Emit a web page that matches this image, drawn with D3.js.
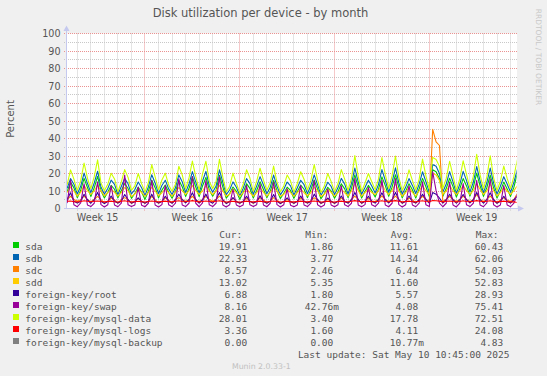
<!DOCTYPE html>
<html><head><meta charset="utf-8">
<script src="https://cdn.jsdelivr.net/npm/d3@7"></script>
<style>html,body{margin:0;padding:0;background:#f0f0f0;} svg{display:block;}</style>
</head><body>
<svg id="chart" width="547" height="376"></svg>
<script>
// ---- data: 6-hourly samples starting Mon 7 Apr 2025 06:00, one line per week (Sun..Sat) ----
const sampleStart = Date.UTC(2025, 3, 7, 6, 0);
const sampleStepHours = 6;

const sda = [
 9.6,15.1,11.8, 6.2,10.4,17.2,12.0, 6.9,11.8,18.4,10.1, 6.0,9.3,13.2,11.0, 6.1,10.2,14.3,11.4, 5.8,8.6,12.1,9.4,
 5.2,9.9,16.2,11.9, 6.1,10.5,13.4,9.1, 5.9,9.6,16.1,12.4, 6.9,11.4,18.2,12.3, 6.8,12.9,17.8,10.6, 7.0,10.4,19.0,12.2, 5.9,8.4,12.3,9.8,
 5.3,9.1,14.2,11.5, 6.0,10.3,15.3,10.9, 6.2,9.8,16.1,10.2, 5.7,8.6,12.2,10.3, 5.8,9.6,13.4,11.0, 6.3,10.7,16.3,11.1, 5.6,8.5,12.1,10.0,
 5.9,9.5,14.1,11.2, 6.2,11.5,19.2,12.3, 6.0,9.7,13.2,10.2, 6.6,11.2,18.1,13.1, 7.0,12.2,19.3,11.9, 6.1,9.8,14.2,10.7, 6.0,11.3,17.2,12.4,
 6.8,22.1,21.0,17.2, 7.0,11.4,17.3,12.5, 6.5,11.2,17.1,12.9, 7.1,12.1,20.2,13.0, 6.9,12.0,19.1,11.8, 6.0,10.1,15.1,11.2,
 6.9,12.2,19.9
];
const sdb = [
 11.6,17.1,13.9, 8.3,12.7,20.2,14.4, 9.1,14.6,21.3,12.3, 8.2,11.4,16.2,13.8, 8.0,12.6,17.2,14.1, 8.3,10.8,15.1,11.9,
 7.5,12.3,19.3,14.6, 8.4,13.1,16.1,11.2, 8.0,11.9,19.2,15.3, 9.2,14.0,21.1,15.1, 8.8,15.7,21.2,13.0, 9.3,12.8,22.1,14.9, 7.9,10.6,15.2,12.1,
 7.2,11.5,17.1,14.2, 8.1,12.8,18.2,13.4, 8.4,12.2,19.1,12.7, 7.8,10.8,15.1,12.9, 7.7,11.9,16.1,13.6, 8.5,13.1,19.2,13.5, 7.6,10.7,15.0,12.6,
 8.0,11.8,17.2,13.9, 8.3,14.2,23.1,15.1, 8.1,12.0,16.2,12.8, 8.9,13.8,22.2,16.0, 9.3,15.1,23.2,14.6, 8.2,12.1,17.1,13.2, 8.6,13.9,21.0,15.3,
 9.2,25.2,24.1,20.0, 9.4,14.0,21.1,15.2, 8.6,13.8,21.2,15.9, 9.5,15.0,24.0,15.8, 9.1,14.8,23.1,14.5, 8.2,12.7,18.2,14.0,
 9.3,15.1,22.3
];
const sdc = [
 5.1,7.0,5.2, 4.1,5.0,7.1,5.0, 3.9,5.1,6.9,5.1, 3.2,4.1,6.0,4.9, 3.1,5.0,6.2,5.0, 3.0,4.1,5.8,4.2,
 3.1,4.2,7.0,5.1, 3.0,4.1,6.1,4.8, 3.2,5.0,6.2,5.1, 4.0,5.1,7.0,5.0, 3.9,5.0,6.9,5.2, 4.1,5.1,7.1,5.0, 3.0,4.0,5.9,4.1,
 3.1,4.0,6.0,4.2, 3.0,4.1,6.1,4.9, 3.2,4.2,6.2,5.0, 2.9,4.0,5.1,4.0, 3.0,4.1,6.0,4.2, 3.1,4.2,6.1,4.9, 2.9,4.0,5.2,4.1,
 3.0,4.1,6.1,4.0, 3.1,5.0,7.1,5.1, 3.0,4.1,6.0,4.2, 4.0,5.1,7.2,5.0, 4.1,5.0,7.1,5.1, 3.1,4.2,6.0,5.0, 3.2,5.1,7.0,5.2,
 4.1,45.2,38.1,36.0, 4.0,5.1,7.0,5.0, 4.1,5.0,7.1,5.2, 3.9,5.1,8.0,5.1, 4.0,5.2,7.1,5.0, 3.1,5.0,6.1,4.9,
 4.0,5.1,8.6
];
const sdd = [
 9.1,12.2,10.0, 7.1,9.2,13.1,10.2, 8.0,10.1,13.2,10.0, 7.2,9.0,11.1,9.2, 7.1,9.1,12.0,10.1, 6.9,8.2,11.0,9.1,
 7.0,9.1,12.1,10.0, 7.2,9.0,11.2,9.1, 7.1,9.2,12.0,10.1, 8.0,10.1,13.1,10.2, 8.1,10.0,13.0,10.1, 7.9,10.2,13.2,10.0, 7.0,8.1,11.1,9.0,
 6.9,9.0,11.2,9.1, 7.1,9.1,12.0,9.2, 7.0,9.2,12.1,10.0, 7.1,8.0,11.0,9.1, 7.0,9.1,11.2,9.0, 7.2,9.0,12.1,10.1, 6.9,8.1,11.0,9.2,
 7.0,9.1,11.1,9.0, 7.1,10.0,14.1,10.2, 7.0,9.1,11.2,9.1, 8.0,10.1,14.0,10.1, 8.1,10.2,14.1,10.0, 7.1,9.0,12.1,9.2, 7.0,10.1,13.0,10.1,
 8.0,20.1,19.2,16.0, 8.1,10.0,13.2,10.1, 7.9,10.1,13.0,10.2, 8.0,10.2,14.1,11.0, 8.1,10.0,14.0,10.1, 7.1,9.1,12.0,10.0,
 8.0,10.2,13.0
];
const fkRoot = [
 5.1,9.0,4.2, 3.1,4.2,8.1,5.0, 3.0,5.1,9.2,4.1, 2.9,4.0,7.1,4.2, 3.1,4.1,8.0,5.1, 3.0,3.9,6.1,4.0,
 3.0,4.1,8.2,4.1, 3.1,4.0,7.0,4.2, 3.0,5.0,8.1,5.1, 3.2,5.1,9.0,5.0, 3.1,5.0,8.2,4.1, 3.0,5.1,9.1,5.0, 2.9,4.0,6.2,4.0,
 3.0,4.1,7.0,4.1, 3.1,4.0,7.2,4.0, 3.0,4.2,8.0,4.1, 2.9,4.0,6.1,4.0, 3.0,4.1,7.1,4.2, 3.1,4.0,8.2,5.0, 3.0,3.9,6.0,4.1,
 3.0,4.1,7.1,4.0, 3.1,5.0,9.1,5.1, 3.0,4.1,7.0,4.2, 3.1,5.1,9.0,5.0, 3.2,5.0,9.2,5.1, 3.0,4.1,7.1,4.0, 3.1,5.0,8.1,5.2,
 3.0,9.1,8.2,6.0, 3.1,5.0,8.1,5.1, 3.0,5.1,8.0,5.0, 3.2,5.0,9.1,5.1, 3.1,5.1,9.0,5.0, 3.0,4.1,7.0,4.2,
 3.1,5.0,6.9
];
const fkSwap = [
 3.1,16.2,2.1, 1.0,3.2,14.1,2.0, 1.1,3.0,15.2,2.2, 0.9,2.1,13.0,2.0, 1.0,3.1,19.1,2.1, 1.1,2.0,12.2,1.9,
 1.0,3.0,16.1,2.0, 0.9,2.2,13.1,2.1, 1.0,3.1,17.0,2.0, 1.1,3.0,18.2,3.0, 1.0,3.2,16.0,2.1, 1.1,3.0,18.1,2.0, 0.9,2.1,11.0,2.0,
 1.0,2.0,13.2,2.1, 1.1,2.2,14.0,2.0, 1.0,3.0,15.1,2.2, 0.9,2.1,11.2,1.9, 1.0,2.0,13.1,2.0, 1.1,3.1,16.0,2.1, 0.9,2.0,11.1,2.0,
 1.0,2.1,13.0,2.1, 1.1,3.0,17.2,2.0, 1.0,2.2,12.1,2.1, 1.1,3.1,16.2,2.0, 1.0,3.0,17.1,2.2, 0.9,2.1,13.0,2.0, 1.0,3.1,15.2,2.1,
 1.1,21.0,10.2,3.1, 1.0,3.0,15.1,2.0, 0.9,3.1,14.2,2.1, 1.1,3.0,16.1,2.0, 1.0,3.2,17.0,2.1, 0.9,2.0,13.1,2.0,
 1.0,3.1,8.2
];
const fkMysqlData = [
 13.5,22.1,16.8, 10.2,15.9,26.0,17.3, 11.4,18.2,27.8,14.6, 10.1,13.8,20.1,16.9, 9.6,15.2,22.2,17.8, 10.3,12.9,20.0,14.2,
 9.4,14.8,25.1,18.1, 10.6,16.3,20.2,13.4, 9.8,13.9,24.1,19.2, 11.2,17.5,27.1,18.3, 10.7,19.8,27.0,15.6, 11.3,15.4,28.1,17.9, 9.5,12.6,20.2,14.3,
 8.9,13.7,22.1,17.4, 9.8,15.6,23.0,16.2, 10.4,14.8,24.2,15.1, 9.6,12.9,19.1,15.8, 9.4,14.3,21.0,16.7, 10.5,15.9,25.1,16.3, 9.2,12.8,20.0,15.4,
 9.6,14.1,22.2,16.8, 10.3,17.2,30.2,18.4, 9.7,14.6,20.0,15.3, 10.8,16.9,29.1,19.5, 11.4,18.6,30.0,17.8, 10.2,14.7,22.1,16.1, 10.6,16.8,28.2,18.7,
 11.2,29.2,28.0,24.1, 11.5,17.2,27.0,18.6, 10.4,16.9,27.2,19.3, 11.8,18.4,31.0,19.2, 11.3,18.1,30.1,17.7, 10.2,15.6,24.2,17.2,
 11.4,18.3,28.0
];
const fkMysqlLogs = [
 4.1,4.3,3.9, 3.8,4.0,4.4,4.1, 3.9,4.1,4.3,4.0, 3.8,4.0,4.2,3.9, 3.7,4.1,4.4,4.0, 3.8,3.9,4.1,3.9,
 3.7,4.0,4.3,4.0, 3.8,4.0,4.2,3.9, 3.8,4.1,4.4,4.0, 3.9,4.1,4.5,4.1, 3.8,4.0,4.3,4.0, 3.9,4.1,4.4,4.0, 3.7,3.9,4.1,3.8,
 3.7,3.9,4.2,3.9, 3.8,4.0,4.2,3.9, 3.8,4.0,4.3,4.0, 3.7,3.9,4.1,3.8, 3.8,4.0,4.2,3.9, 3.8,4.1,4.3,4.0, 3.7,3.9,4.1,3.8,
 3.7,4.0,4.2,3.9, 3.9,4.1,4.5,4.1, 3.8,4.0,4.2,3.9, 3.9,4.1,4.4,4.0, 3.9,4.2,4.5,4.1, 3.8,4.0,4.2,3.9, 3.8,4.1,4.4,4.0,
 3.9,4.6,4.4,4.2, 3.8,4.1,4.3,4.0, 3.8,4.0,4.4,4.0, 3.9,4.1,4.5,4.1, 3.9,4.1,4.4,4.0, 3.8,4.0,4.2,3.9,
 3.8,3.9,3.4
];
const fkMysqlBackup = [
 0,0,0, 0,0,0,0, 0,0,0,0, 0,0,0,0, 0,0,0,0, 0,0,0,0,
 0,0,0,0, 0,0,0,0, 0,0,0,0, 0,0,0,0, 0,0,0,0, 0,0,0,0, 0,0,0,0,
 0,0,0,0, 0,0,0,0, 0,0,0,0, 0,0,0,0, 0,0,0,0, 0,0,0,0, 0,0,0,0,
 0,0,0,0, 0,0,0,0, 0,0,0,0, 0,0,0,0, 0,0,0,0, 0,0,0,0, 0,0,0,0,
 0,0,0,0, 0,0,0,0, 0,0,0,0, 0,0,0,0, 0,0,0,0, 0,0,0,0,
 0,0,0
];

const seriesNames = ["sda","sdb","sdc","sdd","foreign-key/root","foreign-key/swap","foreign-key/mysql-data","foreign-key/mysql-logs","foreign-key/mysql-backup"];
const seriesColors = ["#00CC00","#0066B3","#FF8000","#FFCC00","#330099","#990099","#CCFF00","#FF0000","#808080"];
const seriesValues = [sda, sdb, sdc, sdd, fkRoot, fkSwap, fkMysqlData, fkMysqlLogs, fkMysqlBackup];

const curVals = ["19.91","22.33","8.57","13.02","6.88","8.16","28.01","3.36","0.00"];
const minVals = ["1.86","3.77","2.46","5.35","1.80","42.76m","3.40","1.60","0.00"];
const avgVals = ["11.61","14.34","6.44","11.60","5.57","4.08","17.78","4.11","10.77m"];
const maxVals = ["60.43","62.06","54.03","52.83","28.93","75.41","72.51","24.08","4.83"];
const columnHeaders = ["Cur:","Min:","Avg:","Max:"];

const yTickValues = [0,10,20,30,40,50,60,70,80,90,100];
const weekLabels = ["Week 15","Week 16","Week 17","Week 18","Week 19"];

const titleText = "Disk utilization per device - by month";
const yAxisTitle = "Percent";
const lastUpdate = "Last update: Sat May 10 10:45:00 2025";
const versionText = "Munin 2.0.33-1";
const watermark = "RRDTOOL / TOBI OETIKER";

// ---- drawing ----
const W = 547, H = 376;
const svg = d3.select("#chart");
svg.append("rect").attr("width", W).attr("height", H).attr("fill", "#f0f0f0");

const P = {left: 67, right: 517, top: 33.5, bottom: 208.5};
const t0 = new Date(Date.UTC(2025, 3, 7, 5, 45));
const t1 = new Date(Date.UTC(2025, 4, 10, 11, 27));
const tEnd = new Date(Date.UTC(2025, 4, 10, 10, 45));
const x = d3.scaleUtc().domain([t0, t1]).range([P.left, P.right]);
const y = d3.scaleLinear().domain([0, 100]).range([P.bottom, P.top]);
const snap = v => Math.floor(v) + 0.5;

svg.append("rect").attr("x", 66).attr("y", P.top).attr("width", P.right - 66).attr("height", P.bottom - P.top).attr("fill", "#ffffff");

const grid = svg.append("g");
const minorY = d3.range(5, 100, 10);
const days = d3.utcDay.range(t0, t1);
const sundays = d3.utcSunday.range(t0, t1);
const sundaySet = new Set(sundays.map(d => +d));

// minor grid
grid.selectAll(".mh").data(minorY).join("line")
  .attr("x1", 64).attr("x2", P.right).attr("y1", d => snap(y(d))).attr("y2", d => snap(y(d)))
  .attr("stroke", "#c8c8c8").attr("stroke-width", 1).attr("stroke-dasharray", "1,1");
grid.selectAll(".mv").data(days.filter(d => !sundaySet.has(+d))).join("line")
  .attr("x1", d => snap(x(d))).attr("x2", d => snap(x(d))).attr("y1", P.top).attr("y2", P.bottom + 2)
  .attr("stroke", "#c8c8c8").attr("stroke-width", 1).attr("stroke-dasharray", "1,1");
// major grid
grid.selectAll(".Mh").data(yTickValues.filter(v => v > 0)).join("line")
  .attr("x1", 64).attr("x2", P.right).attr("y1", d => snap(y(d))).attr("y2", d => snap(y(d)))
  .attr("stroke", "#ea9292").attr("stroke-width", 1).attr("stroke-dasharray", "1,1");
grid.selectAll(".Mv").data(sundays).join("line")
  .attr("x1", d => snap(x(d))).attr("x2", d => snap(x(d))).attr("y1", P.top).attr("y2", P.bottom + 2)
  .attr("stroke", "#ea9292").attr("stroke-width", 1).attr("stroke-dasharray", "1,1");

// data lines
svg.append("clipPath").attr("id", "clip").append("rect")
  .attr("x", P.left).attr("y", P.top - 2).attr("width", x(tEnd) - P.left).attr("height", P.bottom - P.top + 3);
const line = d3.line().x(d => x(d.t)).y(d => y(d.v));
const lines = svg.append("g").attr("clip-path", "url(#clip)");
seriesValues.forEach((vals, k) => {
  const pts = vals.map((v, i) => ({t: new Date(sampleStart + i * sampleStepHours * 3600e3), v}));
  lines.append("path").datum(pts).attr("d", line)
    .attr("fill", "none").attr("stroke", seriesColors[k]).attr("stroke-width", 1.1)
    .attr("stroke-linejoin", "round");
});

// axes
const axisColor = "#c6c9ef";
svg.append("line").attr("x1", P.left - 0.5).attr("x2", P.left - 0.5).attr("y1", P.bottom).attr("y2", 29)
  .attr("stroke", axisColor);
svg.append("path").attr("d", `M63.5,31 L66.5,25.5 L69.5,31 Z`).attr("fill", axisColor);
svg.append("line").attr("x1", 64).attr("x2", 520).attr("y1", P.bottom).attr("y2", P.bottom).attr("stroke", axisColor);
svg.append("path").attr("d", `M518,205.5 L524,208.5 L518,211.5 Z`).attr("fill", axisColor);

// y tick labels
svg.append("g").selectAll("text").data(yTickValues).join("text")
  .attr("x", 60.5).attr("y", d => y(d) + 3.7).attr("text-anchor", "end")
  .attr("font-family", "DejaVu Sans").attr("font-size", "9.6px").attr("fill", "#555")
  .text(d => d);

// week labels (centred on the middle of each Sunday-based week)
svg.append("g").selectAll("text").data(weekLabels).join("text")
  .attr("x", (d, i) => x(d3.utcHour.offset(d3.utcSunday.floor(t0), i * 168 + 84)))
  .attr("y", 220.5).attr("text-anchor", "middle")
  .attr("font-family", "DejaVu Sans").attr("font-size", "9.6px").attr("fill", "#555")
  .text(d => d);

// title
svg.append("text").attr("x", 260.5).attr("y", 17).attr("text-anchor", "middle")
  .attr("font-family", "DejaVu Sans").attr("font-size", "11.5px").attr("fill", "#555").text(titleText);
svg.append("text").attr("transform", "translate(14,119) rotate(-90)").attr("text-anchor", "middle")
  .attr("font-family", "DejaVu Sans").attr("font-size", "10px").attr("fill", "#555").text(yAxisTitle);
svg.append("text").attr("transform", "translate(535.5,57) rotate(90)").attr("text-anchor", "middle")
  .attr("font-family", "DejaVu Sans").attr("font-size", "7.5px").attr("fill", "#c8c8c8").text(watermark);

// legend
const mono = "DejaVu Sans Mono";
const lg = svg.append("g").attr("font-family", mono).attr("font-size", "9.5px").attr("fill", "#555");
const headerX = [219.3, 305.3, 390.7, 475.7];
lg.selectAll(".hd").data(columnHeaders).join("text").attr("x", (d, i) => headerX[i]).attr("y", 237.5).text(d => d);
const rowY = i => 249.5 + i * 12;
lg.selectAll(".sw").data(seriesNames).join("rect")
  .attr("x", 13).attr("y", (d, i) => rowY(i) - 7.5).attr("width", 6).attr("height", 6)
  .attr("fill", (d, i) => seriesColors[i]);
lg.selectAll(".nm").data(seriesNames).join("text")
  .attr("x", 25.3).attr("y", (d, i) => rowY(i)).text(d => d);
const colEnds = [253, 339, 424, 509];
const fmt = s => /[a-zA-Z]$/.test(s) ? s : s + "\u00a0";
[curVals, minVals, avgVals, maxVals].forEach((arr, c) => {
  lg.append("g").selectAll("text").data(arr).join("text")
    .attr("x", colEnds[c]).attr("y", (d, i) => rowY(i)).attr("text-anchor", "end")
    .text(d => fmt(d));
});
lg.append("text").attr("x", 509.5).attr("y", 357.5).attr("text-anchor", "end")
  .style("white-space", "pre").text(lastUpdate);
svg.append("text").attr("x", 261.3).attr("y", 368.5).attr("text-anchor", "middle")
  .attr("font-family", "DejaVu Sans").attr("font-size", "7.8px").attr("fill", "#c0c0c0").text(versionText);
</script>
</body></html>
